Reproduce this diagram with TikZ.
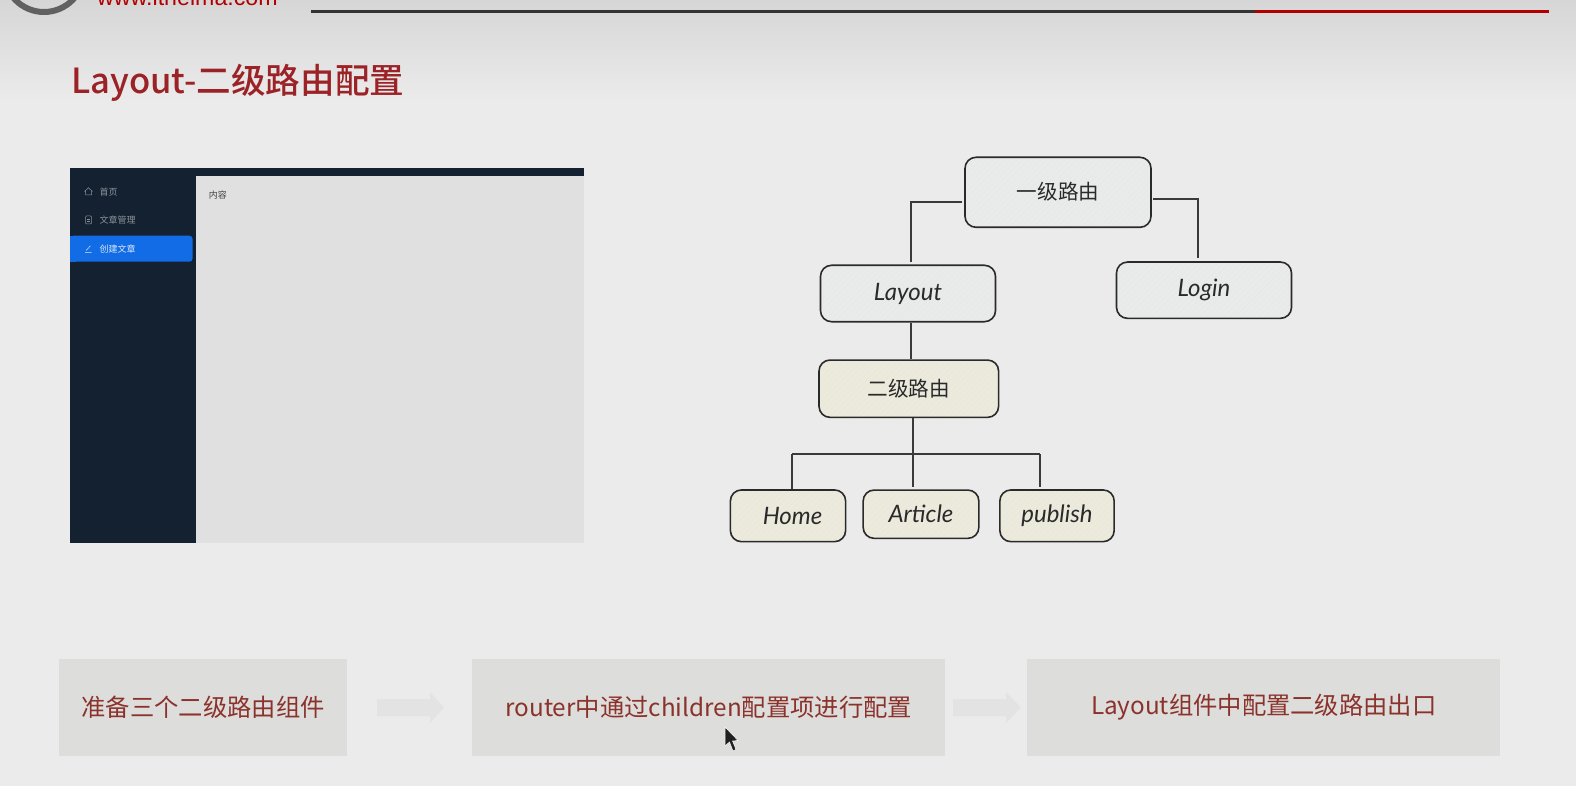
\documentclass[tikz,border=0pt]{standalone}
\usepackage{fontspec}
\setmainfont{Noto Sans CJK SC}
\newfontfamily\cjk{Noto Sans CJK SC}
\newfontfamily\titlefont{Noto Sans CJK SC Medium}
\newfontfamily\hand{Lato}
\newfontfamily\web{Liberation Sans}
\usetikzlibrary{patterns.meta,shadings}
\definecolor{pagebg}{HTML}{EBEBEB}
\definecolor{topbg}{HTML}{D6D6D6}
\definecolor{titlered}{HTML}{9B2226}
\definecolor{stepred}{HTML}{8B322B}
\definecolor{stepfill}{HTML}{DDDDDC}
\definecolor{arrowfill}{HTML}{E3E3E3}
\definecolor{navy}{HTML}{132130}
\definecolor{panel}{HTML}{E0E0E0}
\definecolor{tabblue}{HTML}{116CE6}
\definecolor{greybox}{HTML}{E9EBEB}
\definecolor{yellowbox}{HTML}{ECEADA}
\definecolor{ink}{HTML}{2A2A2A}
\definecolor{wireink}{HTML}{3A3A3A}
\definecolor{sidetext}{HTML}{8D939A}
\tikzset{
  sketchbase/.style={draw=ink,line width=1.6pt,rounded corners=11pt,inner sep=0pt,align=center,text=ink},
  greyroute/.style={sketchbase,preaction={fill=greybox},preaction={pattern={Lines[angle=45,distance=4pt,line width=.6pt]},pattern color=black!10}},
  yellowroute/.style={sketchbase,preaction={fill=yellowbox},preaction={pattern={Lines[angle=45,distance=4pt,line width=.6pt]},pattern color=black!10}},
  cjklabel/.style={font=\cjk\fontsize{20.6}{24}\selectfont},
  handlabel/.style={font=\hand\itshape\fontsize{24}{28}\selectfont},
  wire/.style={draw=wireink,line width=2pt},
  stepbox/.style={fill=stepfill,draw=none,inner sep=0pt,text=stepred,font=\cjk\fontsize{24.3}{28}\selectfont},
  flowarrow/.style={fill=arrowfill,draw=none},
  sidelabel/.style={font=\cjk\fontsize{9}{11}\selectfont,text=sidetext,anchor=west,inner sep=0pt},
  iconline/.style={draw=sidetext,line width=.5pt}
}
\begin{document}
\begin{tikzpicture}[x=1pt,y=-1pt]
\useasboundingbox (0,0) rectangle (1576,786);
\clip (0,0) rectangle (1576,786);
% page background
\fill[pagebg] (0,0) rectangle (1576,786);
\shade[top color=topbg,bottom color=pagebg,draw=none] (0,0) rectangle (1576,100);
% header
\draw[draw=black!62,line width=6pt] (44,-28) circle (40);
\node[anchor=base west,inner sep=0pt,text=red!70!black,font=\web\fontsize{23.2}{26}\selectfont] (site) at (97,6) {www.itheima.com};
\draw[draw=black!80,line width=3pt] (311,12) -- (1255,12);
\draw[draw=red!70!black,line width=3pt] (1255,12) -- (1549,12);
% title
\node[anchor=west,inner sep=0pt,text=titlered,font=\titlefont\fontsize{34.6}{38}\selectfont] (title) at (71,83) {Layout-二级路由配置};
% screenshot
\fill[navy] (70.4,167.7) rectangle (584.4,542.7);
\fill[panel] (195.6,175.7) rectangle (584.4,542.7);
\fill[tabblue,rounded corners=3pt] (70.4,235.7) rectangle (192.5,261.7);
\fill[tabblue] (70.4,235.7) rectangle (76,261.7);
\node[sidelabel] (menuA) at (99.5,191.7) {首页};
\node[sidelabel] (menuB) at (99.5,220) {文章管理};
\node[sidelabel,text=white!85!tabblue] (menuC) at (99.5,249) {创建文章};
\node[sidelabel,text=black!75,anchor=west] (content) at (208.6,195.5) {内容};
\draw[iconline] (84.5,191.5) -- (88.5,187.8) -- (92.5,191.5) (85.5,191) -- (85.5,195) -- (91.5,195) -- (91.5,191);
\draw[iconline,rounded corners=1pt] (85.5,216) rectangle (91.5,224);
\draw[iconline] (87,219) -- (90,219) (87,221) -- (90,221);
\draw[draw=white!85!tabblue,line width=.5pt] (85,252.5) -- (91.5,252.5) (86,250.5) -- (90.5,245.8);
% route tree
\node[greyroute,cjklabel,minimum width=186pt,minimum height=70pt] (root) at (1058,192.3) {\raisebox{2pt}{一级路由}};
\node[greyroute,handlabel,minimum width=175pt,minimum height=56.4pt] (layout) at (908,293.5) {Layout};
\node[greyroute,handlabel,minimum width=175pt,minimum height=56.3pt] (login) at (1204,290.2) {Login};
\node[yellowroute,cjklabel,minimum width=179.6pt,minimum height=57.3pt] (second) at (908.8,388.7) {\raisebox{2pt}{二级路由}};
\node[yellowroute,handlabel,minimum width=115.2pt,minimum height=51.7pt] (home) at (788,515.8) {\hspace*{9pt}Home};
\node[yellowroute,handlabel,minimum width=115.7pt,minimum height=48.3pt] (article) at (921,514.2) {Article};
\node[yellowroute,handlabel,minimum width=114.3pt,minimum height=51.7pt] (publish) at (1057,515.8) {publish};
% connectors
\coordinate (rootL) at (962,202);
\coordinate (rootR) at (1153,199);
\coordinate (layoutTop) at (911,262);
\coordinate (loginTop) at (1198,258);
\coordinate (layoutOut) at (911,0);
\coordinate (busL) at (792,454);
\coordinate (busR) at (1040,454);
\coordinate (busM) at (913,454);
\coordinate (articleTop) at (913,487);
\coordinate (publishTop) at (1040,487);
\draw[wire] (rootL) -| (layoutTop);
\draw[wire] (rootR) -| (loginTop);
\draw[wire] (layout.south -| layoutOut) -- (second.north -| layoutOut);
\draw[wire] (second.south -| busM) -- (busM);
\draw[wire] (busL) -- (busR);
\draw[wire] (busL) -- (home.north -| busL);
\draw[wire] (busM) -- (articleTop);
\draw[wire] (busR) -- (publishTop);
% bottom steps
\node[stepbox,minimum width=287.4pt,minimum height=97.6pt] (stepA) at (203.1,707.5) {准备三个二级路由组件};
\node[stepbox,minimum width=472.6pt,minimum height=97.6pt] (stepB) at (708.7,707.5) {router中通过children配置项进行配置};
\node[stepbox,minimum width=473.5pt,minimum height=97.6pt] (stepC) at (1263.7,707.5) {Layout组件中配置二级路由出口};
\fill[flowarrow] (377,699) -- (430,699) -- (430,692) -- (444,707.5) -- (430,723) -- (430,716) -- (377,716) -- cycle;
\fill[flowarrow] (953,699) -- (1006,699) -- (1006,692) -- (1021,707.5) -- (1006,723) -- (1006,716) -- (953,716) -- cycle;
% cursor
\draw[fill=black!88,draw=white!80,line width=.5pt] (725,727) -- (725,746) -- (729.5,742) -- (733,751) -- (736,749.5) -- (732.5,741) -- (738,740.5) -- cycle;
\end{tikzpicture}
\end{document}
